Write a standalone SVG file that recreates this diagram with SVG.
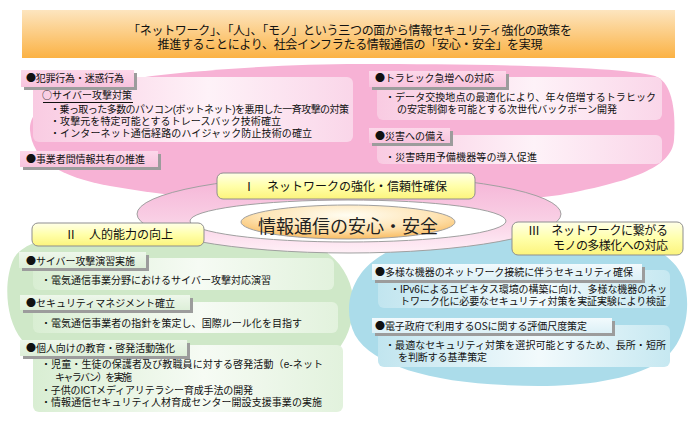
<svg xmlns="http://www.w3.org/2000/svg" width="694" height="423" viewBox="0 0 694 423">
<defs>
<linearGradient id="gBanner" x1="0" y1="0" x2="0" y2="1"><stop offset="0" stop-color="#fde5bf"/><stop offset="1" stop-color="#fbb244"/></linearGradient>
<linearGradient id="gY" x1="0" y1="0" x2="0" y2="1"><stop offset="0" stop-color="#ffffe8"/><stop offset="0.5" stop-color="#ffffaa"/><stop offset="1" stop-color="#fcf47c"/></linearGradient>
<linearGradient id="gRing" x1="0" y1="0" x2="0" y2="1"><stop offset="0" stop-color="#f5b3d6"/><stop offset="0.55" stop-color="#f9cee4"/><stop offset="1" stop-color="#fff0f7"/></linearGradient>
<radialGradient id="gOrange" cx="0.5" cy="0.3" r="0.75"><stop offset="0" stop-color="#fffdf2"/><stop offset="0.55" stop-color="#fee4b4"/><stop offset="1" stop-color="#f8b553"/></radialGradient>
<linearGradient id="gCp" x1="0" y1="0" x2="1" y2="0"><stop offset="0" stop-color="#f9cbe2"/><stop offset="0.55" stop-color="#fef2f8"/><stop offset="1" stop-color="#fad6e9"/></linearGradient>
<linearGradient id="gCg" x1="0" y1="0" x2="1" y2="0"><stop offset="0" stop-color="#d9eed3"/><stop offset="0.55" stop-color="#f6fbf4"/><stop offset="1" stop-color="#e2f2dd"/></linearGradient>
<linearGradient id="gCb" x1="0" y1="0" x2="1" y2="0"><stop offset="0" stop-color="#c1e5ef"/><stop offset="0.55" stop-color="#f2fafc"/><stop offset="1" stop-color="#c6e8f1"/></linearGradient>
<linearGradient id="gHp" x1="0" y1="0" x2="0" y2="1"><stop offset="0" stop-color="#fcd8ea"/><stop offset="1" stop-color="#f8c3dd"/></linearGradient>
<linearGradient id="gHg" x1="0" y1="0" x2="0" y2="1"><stop offset="0" stop-color="#eef7eb"/><stop offset="1" stop-color="#ddefd8"/></linearGradient>
<linearGradient id="gHb" x1="0" y1="0" x2="0" y2="1"><stop offset="0" stop-color="#f2fafd"/><stop offset="1" stop-color="#dcf0f6"/></linearGradient>
</defs>
<style>
text { font-family: "Noto Sans CJK JP", "Noto Sans CJK SC", sans-serif; fill: #111; }
text.lb { font-family: "Liberation Sans", "Noto Sans CJK JP", "Noto Sans CJK SC", sans-serif; }
tspan.cj { font-family: "Noto Sans CJK JP", "Noto Sans CJK SC", sans-serif; }
.t10 { font-size: 10px; }
.t12 { font-size: 12px; }
.t18 { font-size: 18px; fill: #222; }
.sh { fill: #9c9c9c; }
.hp { fill: url(#gHp); }
.hg { fill: url(#gHg); }
.hb { fill: url(#gHb); }
.cp { fill: url(#gCp); }
.cg { fill: url(#gCg); }
.cb { fill: url(#gCb); }
.yl { fill: url(#gY); stroke: #8f8f8f; stroke-width: 1; }
.ol { stroke: #a0a0a0; stroke-width: 1; }
</style>
<rect x="0" y="0" width="694" height="423" fill="#ffffff"/>

<g id="banner">
<rect x="22" y="10" width="653" height="48" fill="url(#gBanner)"/>
<text class="t12 lb" text-anchor="middle"><tspan x="350" y="34.6" textLength="444">「ネットワーク」、「人」、「モノ」という三つの面から情報セキュリティ強化の政策を</tspan><tspan x="350" y="49" textLength="385">推進することにより、社会インフラたる情報通信の「安心・安全」を実現</tspan></text>
</g>

<g id="region-network">
<path d="M 30,130 C 28,100 80,82 190,72 C 260,66 310,64 360,64 C 480,64 620,66 655,76 C 672,82 676,110 674,140 C 672,165 640,180 560,195 C 500,203 420,206 350,206 C 260,206 180,198 110,186 C 60,177 32,160 30,130 Z" fill="#f7b2d5"/>
</g>
<g id="region-human">
<path d="M 232,226 C 120,224 30,230 14,258 C 4,278 4,318 22,340 C 60,380 150,398 230,396 C 300,392 345,360 352,318 C 358,290 345,262 320,248 C 295,234 265,227 232,226 Z" fill="#cfe8c8"/>
</g>
<g id="region-things">
<path d="M 360,275 C 380,245 440,228 520,226 C 600,224 670,240 684,280 C 692,310 685,345 660,362 C 620,385 560,388 505,385 C 430,382 372,365 355,335 C 345,315 348,292 360,275 Z" fill="#abdcea"/>
</g>

<g id="crime">
<rect class="cp" x="33" y="77" width="320" height="65" rx="6"/>
<rect class="sh" x="24" y="73" width="113" height="17"/>
<rect class="hp" x="21" y="70" width="113" height="17"/>
<text class="t10" x="26" y="82" textLength="98">●犯罪行為・迷惑行為</text>
<text class="t10 lb"><tspan x="42" y="99" textLength="90"><tspan class="cj">○</tspan>サイバー攻撃対策</tspan><tspan x="50" y="112.5" textLength="299">・乗っ取った多数のパソコン(ボットネット)を悪用した一斉攻撃の対策</tspan><tspan x="50" y="124.5" textLength="231">・攻撃元を特定可能とするトレースバック技術確立</tspan><tspan x="50" y="136.5" textLength="262">・インターネット通信経路のハイジャック防止技術の確立</tspan></text>
<line x1="43" y1="102.5" x2="133" y2="102.5" stroke="#111" stroke-width="1"/>
</g>
<g id="info-sharing">
<rect class="sh" x="23" y="154" width="138" height="16"/>
<rect class="hp" x="20" y="151" width="138" height="16"/>
<text class="t10" x="26" y="163" textLength="119">●事業者間情報共有の推進</text>
</g>
<g id="traffic">
<rect class="cp" x="377" y="77" width="285" height="43" rx="6"/>
<rect class="sh" x="372" y="74" width="137" height="16"/>
<rect class="hp" x="369" y="71" width="137" height="16"/>
<text class="t10" x="375" y="82" textLength="119">●トラヒック急増への対応</text>
<text class="t10 lb"><tspan x="385" y="101" textLength="271">・データ交換地点の最適化により、年々倍増するトラヒック</tspan><tspan x="397" y="113" textLength="220">の安定制御を可能とする次世代バックボーン開発</tspan></text>
</g>
<g id="disaster">
<rect class="cp" x="377" y="135" width="285" height="29" rx="6"/>
<rect class="sh" x="372" y="131" width="81" height="15"/>
<rect class="hp" x="369" y="128" width="81" height="15"/>
<text class="t10" x="375" y="140" textLength="70">●災害への備え</text>
<text class="t10" x="385" y="160.5" textLength="152">・災害時用予備機器等の導入促進</text>
</g>

<g id="cyber-exercise">
<rect class="cg" x="33" y="258" width="301" height="32" rx="6"/>
<rect class="sh" x="22" y="255" width="127" height="16"/>
<rect class="hg" x="19" y="252" width="127" height="16"/>
<text class="t10" x="26" y="265" textLength="109">●サイバー攻撃演習実施</text>
<text class="t10" x="41" y="284" textLength="230">・電気通信事業分野におけるサイバー攻撃対応演習</text>
</g>
<g id="security-management">
<rect class="cg" x="33" y="302" width="305" height="31" rx="6"/>
<rect class="sh" x="23" y="298" width="170" height="15"/>
<rect class="hg" x="20" y="295" width="170" height="15"/>
<text class="t10" x="26" y="307" textLength="149">●セキュリティマネジメント確立</text>
<text class="t10" x="41" y="327" textLength="261">・電気通信事業者の指針を策定し、国際ルール化を目指す</text>
</g>
<g id="education">
<rect class="cg" x="33" y="345" width="310" height="67" rx="6"/>
<rect class="sh" x="23" y="343" width="167" height="16"/>
<rect class="hg" x="20" y="340" width="167" height="16"/>
<text class="t10" x="26" y="351.5" textLength="149">●個人向けの教育・啓発活動強化</text>
<text class="t10 lb"><tspan x="41" y="368" textLength="282">・児童・生徒の保護者及び教職員に対する啓発活動（e-ネット</tspan><tspan x="55" y="381" textLength="77">キャラバン）を実施</tspan><tspan x="41" y="393.5" textLength="212">・子供のICTメディアリテラシー育成手法の開発</tspan><tspan x="41" y="405.5" textLength="281">・情報通信セキュリティ人材育成センター開設支援事業の実施</tspan></text>
</g>

<g id="device-security">
<rect class="cb" x="378" y="270" width="292" height="38" rx="6"/>
<rect class="sh" x="375" y="267" width="270" height="16"/>
<rect class="hb" x="372" y="264" width="270" height="16"/>
<text class="t10" x="375" y="276" textLength="258">●多様な機器のネットワーク接続に伴うセキュリティ確保</text>
<text class="t10 lb"><tspan x="390" y="293" textLength="277">・IPv6によるユビキタス環境の構築に向け、多様な機器のネッ</tspan><tspan x="400" y="305" textLength="266">トワーク化に必要なセキュリティ対策を実証実験により検証</tspan></text>
</g>
<g id="os-evaluation">
<rect class="cb" x="378" y="325" width="292" height="42" rx="6"/>
<rect class="sh" x="375" y="321" width="240" height="15"/>
<rect class="hb" x="372" y="318" width="240" height="15"/>
<text class="t10" x="375" y="330" textLength="212">●電子政府で利用するOSに関する評価尺度策定</text>
<text class="t10 lb"><tspan x="385" y="349" textLength="281">・最適なセキュリティ対策を選択可能とするため、長所・短所</tspan><tspan x="398" y="361" textLength="89">を判断する基準策定</tspan></text>
</g>

<g id="center">
<ellipse class="ol" cx="349" cy="214" rx="212" ry="39" fill="url(#gRing)"/>
<ellipse class="ol" cx="348" cy="221" rx="158" ry="21" fill="#ffffff"/>
<ellipse class="ol" cx="348" cy="222" rx="107" ry="17" fill="url(#gOrange)"/>
<text class="t18" x="258" y="232.8" textLength="180">情報通信の安心・安全</text>
</g>

<g id="pillar-1">
<rect class="yl" x="217" y="173" width="258" height="26" rx="6"/>
<text class="t12" x="243" y="190.6" textLength="204">Ⅰ　ネットワークの強化・信頼性確保</text>
</g>
<g id="pillar-2">
<rect class="yl" x="32" y="223" width="172" height="23" rx="6"/>
<text class="t12" x="65" y="238.6" textLength="108">Ⅱ　人的能力の向上</text>
</g>
<g id="pillar-3">
<rect class="yl" x="512" y="222" width="171" height="33" rx="6"/>
<text class="t12 lb"><tspan x="528" y="234.6" textLength="140">Ⅲ　ネットワークに繋がる</tspan><tspan x="553" y="249.6" textLength="115">モノの多様化への対応</tspan></text>
</g>
</svg>
